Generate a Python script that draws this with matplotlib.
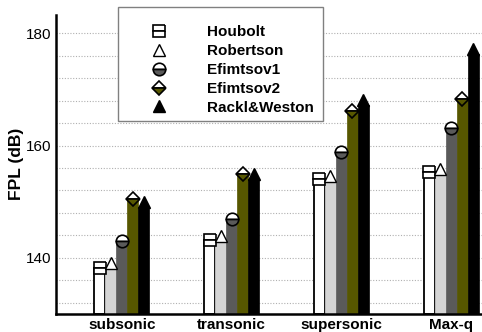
import numpy as np
import matplotlib
matplotlib.use("Agg")
import matplotlib.pyplot as plt
from matplotlib.lines import Line2D
from matplotlib.patches import Rectangle
from matplotlib.ticker import MultipleLocator
from matplotlib.transforms import offset_copy

plt.rcParams['font.family'] = ['Liberation Sans', 'DejaVu Sans']

# ---- data ----
categories = ['subsonic', 'transonic', 'supersonic', 'Max-q']
methods = ['Houbolt', 'Robertson', 'Efimtsov1', 'Efimtsov2', 'Rackl&Weston']
houbolt    = [138.2, 143.2, 154.0, 155.2]
robertson  = [138.1, 143.0, 153.7, 155.0]
efimtsov1  = [143.0, 146.9, 158.9, 163.2]
efimtsov2  = [150.4, 154.9, 166.1, 168.3]
rackl      = [149.0, 154.0, 167.2, 176.4]
values = [houbolt, robertson, efimtsov1, efimtsov2, rackl]

# ---- styles ----
bar_colors = ['white', '#d4d4d4', '#5a5a5a', '#575700', 'black']
markers    = ['s', '^', 'o', 'D', '^']
msizes     = [8, 8.5, 9, 7, 8]
marker_dy  = [0, 3.5, 0, 0, 3.5]   # points, triangles sit on top of bar

fig = plt.figure(figsize=(4.82, 3.32), dpi=100)
ax = fig.add_axes([0.116, 0.055, 0.884, 0.90])

x = np.arange(len(categories))
w = 0.1
handles = []
for i, (m, vals) in enumerate(zip(methods, values)):
    xi = x + (i - 2) * w
    ax.bar(xi, np.array(vals) - 130, bottom=130, width=w,
           color=bar_colors[i], edgecolor='black' if i == 0 else bar_colors[i],
           linewidth=1.3 if i == 0 else 0.5, zorder=2)
    tr = offset_copy(ax.transData, fig=fig, x=0, y=marker_dy[i], units='points')
    if markers[i] == '^':
        face = 'white' if i == 1 else 'black'
        ax.plot(xi, vals, ls='none', marker='^', ms=msizes[i],
                mfc=face, mec='black', mew=1.0, transform=tr, zorder=3,
                clip_on=False)
        h = Line2D([], [], ls='none', marker='^', ms=msizes[i], mfc=face,
                   mec='black', mew=1.0)
    else:
        ax.plot(xi, vals, ls='none', marker=markers[i], ms=msizes[i],
                mfc='white', mfcalt=bar_colors[i], fillstyle='top',
                mec='black', mew=1.2, transform=tr, zorder=3, clip_on=False)
        h = Line2D([], [], ls='none', marker=markers[i], ms=msizes[i],
                   mfc='white', mfcalt=bar_colors[i], fillstyle='top',
                   mec='black', mew=1.2)
    handles.append(h)

ax.set_xlim(-0.6, 3.28)
ax.set_ylim(130, 183.3)
ax.set_xticks(x)
ax.set_xticklabels(categories, fontsize=11, fontweight='bold')
ax.set_yticks([140, 160, 180])
ax.yaxis.set_minor_locator(MultipleLocator(4))
ax.tick_params(axis='both', which='both', length=0, labelsize=11)
ax.tick_params(axis='x', pad=3)
ax.grid(True, axis='y', which='both', ls=(0, (1, 1.5)), color='#b0b0b0',
        lw=0.8, zorder=0)
ax.set_axisbelow(True)
ax.set_ylabel('FPL (dB)', fontsize=12.5, fontweight='bold', labelpad=1)

for s in ['top', 'right']:
    ax.spines[s].set_visible(False)
for s in ['left', 'bottom']:
    ax.spines[s].set_linewidth(1.8)

# legend box drawn separately so its padding can be uneven
box = Rectangle((0.2448, 0.6355), 0.4253, 0.3434, transform=fig.transFigure,
                facecolor='white', edgecolor='#808080', linewidth=1.0,
                zorder=5)
fig.patches.append(box)
leg = fig.legend(handles, methods, loc='upper left',
                 bbox_to_anchor=(0.245, 0.970), bbox_transform=fig.transFigure,
                 borderaxespad=0, frameon=False,
                 prop={'weight': 'bold', 'size': 11},
                 borderpad=1.0, handlelength=3.4, handletextpad=1.4,
                 labelspacing=0.32)
leg.set_zorder(6)

fig.savefig('out.png', dpi=100)
